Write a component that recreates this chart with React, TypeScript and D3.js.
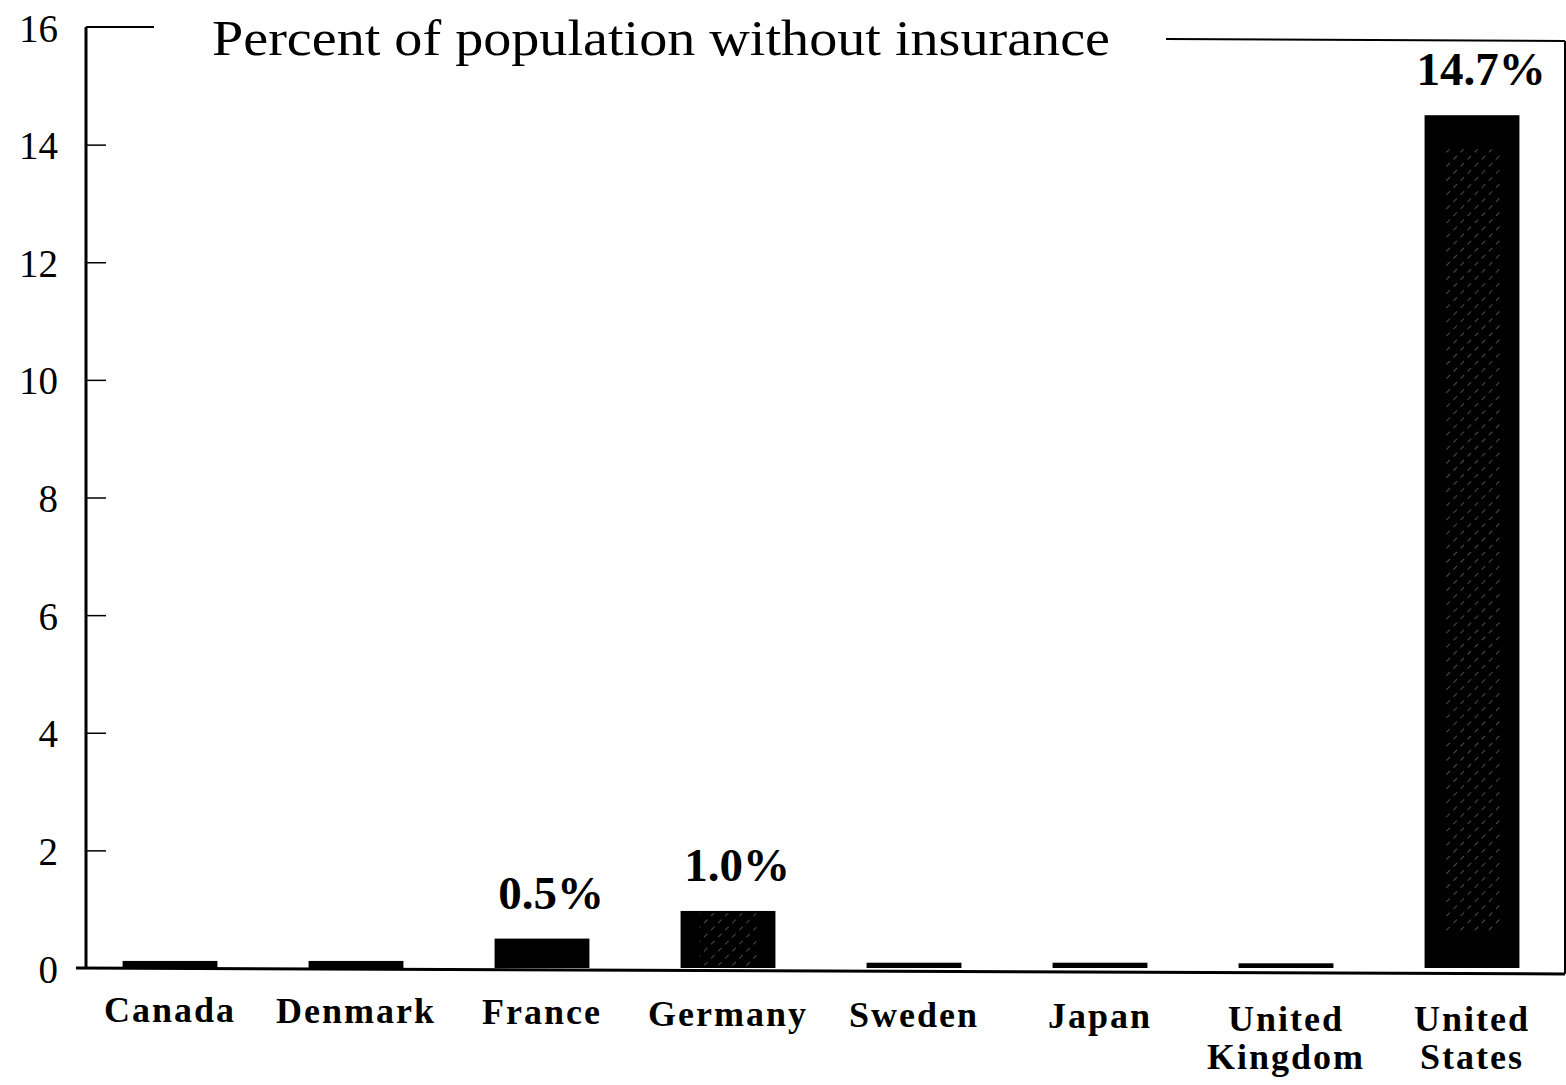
import { useEffect, useRef } from 'react'
import * as d3 from 'd3'

const countries = ['Canada', 'Denmark', 'France', 'Germany', 'Sweden', 'Japan', 'United Kingdom', 'United States']
const uninsured = [0.12, 0.12, 0.5, 0.97, 0.09, 0.09, 0.08, 14.5]
const valueLabels = ['', '', '0.5%', '1.0%', '', '', '', '14.7%']
const yTicks = [0, 2, 4, 6, 8, 10, 12, 14, 16]
const title = 'Percent of population without insurance'

function App() {
  const ref = useRef<SVGSVGElement>(null)

  useEffect(() => {
    document.body.style.margin = '0'
    const width = 1566,
      height = 1085,
      left = 86,
      right = 1565,
      top = 27,
      bottom = 968

    const svg = d3.select(ref.current)
    svg.selectAll('*').remove()
    svg.attr('width', width).attr('height', height)

    const x = d3
      .scaleBand()
      .domain(countries)
      .range([77, 1565])
      .paddingInner(0.49)
      .paddingOuter(0.245)
    const y = d3.scaleLinear().domain([0, 16]).range([bottom, top])

    // faint hatch used inside the darker bars
    const defs = svg.append('defs')
    const pat = defs
      .append('pattern')
      .attr('id', 'hatch')
      .attr('patternUnits', 'userSpaceOnUse')
      .attr('width', 10)
      .attr('height', 10)
      .attr('patternTransform', 'rotate(45)')
    pat.append('rect').attr('width', 10).attr('height', 10).attr('fill', '#000')
    pat
      .append('line')
      .attr('x1', 0)
      .attr('y1', 0)
      .attr('x2', 0)
      .attr('y2', 10)
      .attr('stroke', '#fff')
      .attr('stroke-width', 1.2)
      .attr('stroke-dasharray', '5 5')
      .attr('opacity', 0.6)

    const font = '"Liberation Serif", "DejaVu Serif", serif'

    // y axis
    const yAxis = d3
      .axisLeft(y)
      .tickValues(yTicks)
      .tickSize(-20)
      .tickPadding(28)
      .tickFormat(d3.format('d'))
    const ga = svg.append('g').attr('transform', `translate(${left},0)`).call(yAxis)
    ga.select('.domain').remove()
    ga.selectAll('line').attr('stroke', '#000').attr('stroke-width', 1.5)
    ga.selectAll('line').filter((d) => d === 0 || d === 16).remove()
    ga.selectAll('text')
      .attr('font-family', font)
      .attr('font-size', 39)
      .attr('fill', '#000')
      .attr('dy', '0.36em')

    // frame
    const frame = svg.append('g').attr('stroke', '#000').attr('fill', 'none')
    frame.append('line').attr('x1', left).attr('y1', top).attr('x2', left).attr('y2', bottom).attr('stroke-width', 3)
    frame.append('line').attr('x1', left).attr('y1', top).attr('x2', 154).attr('y2', top).attr('stroke-width', 2)
    frame.append('line').attr('x1', 1166).attr('y1', 39).attr('x2', right).attr('y2', 41).attr('stroke-width', 2)
    frame.append('line').attr('x1', right).attr('y1', 41).attr('x2', right).attr('y2', bottom + 6).attr('stroke-width', 2)
    frame.append('line').attr('x1', left - 10).attr('y1', bottom).attr('x2', right).attr('y2', bottom + 6).attr('stroke-width', 3)

    svg
      .append('text')
      .attr('x', 212)
      .attr('y', 55)
      .attr('font-family', font)
      .attr('font-size', 50)
      .attr('textLength', 898)
      .attr('lengthAdjust', 'spacingAndGlyphs')
      .text(title)

    // bars
    const bars = svg.append('g')
    countries.forEach((c, i) => {
      const v = uninsured[i]
      const bx = x(c)!
      const bw = x.bandwidth()
      bars
        .append('rect')
        .attr('x', bx)
        .attr('y', y(v))
        .attr('width', bw)
        .attr('height', y(0) - y(v))
        .attr('fill', '#000')
      if (v > 0.8) {
        const inset = bw * 0.2
        bars
          .append('rect')
          .attr('x', bx + inset)
          .attr('y', y(v) + (y(0) - y(v)) * 0.04)
          .attr('width', bw - 2 * inset)
          .attr('height', (y(0) - y(v)) * 0.92)
          .attr('fill', 'url(#hatch)')
          .attr('opacity', 0.85)
      }
      if (valueLabels[i]) {
        svg
          .append('text')
          .attr('x', bx + bw / 2 + 9)
          .attr('y', y(v) - 30)
          .attr('text-anchor', 'middle')
          .attr('font-family', font)
          .attr('font-weight', 'bold')
          .attr('font-size', 47)
          .text(valueLabels[i])
      }
    })

    // category labels
    const lab = svg
      .append('g')
      .attr('font-family', font)
      .attr('font-weight', 'bold')
      .attr('font-size', 36)
      .attr('letter-spacing', 2)
      .attr('text-anchor', 'middle')
    countries.forEach((c, i) => {
      const cx = x(c)! + x.bandwidth() / 2
      const words = c.startsWith('United') ? ['United', c.split(' ')[1]] : [c]
      const t = lab.append('text').attr('x', cx).attr('y', words.length > 1 ? 1031 : 1022 + i * 1.2)
      words.forEach((w, j) => {
        t.append('tspan').attr('x', cx).attr('dy', j === 0 ? 0 : 38).text(w)
      })
    })
  }, [])

  return <svg ref={ref}></svg>
}

export default App
